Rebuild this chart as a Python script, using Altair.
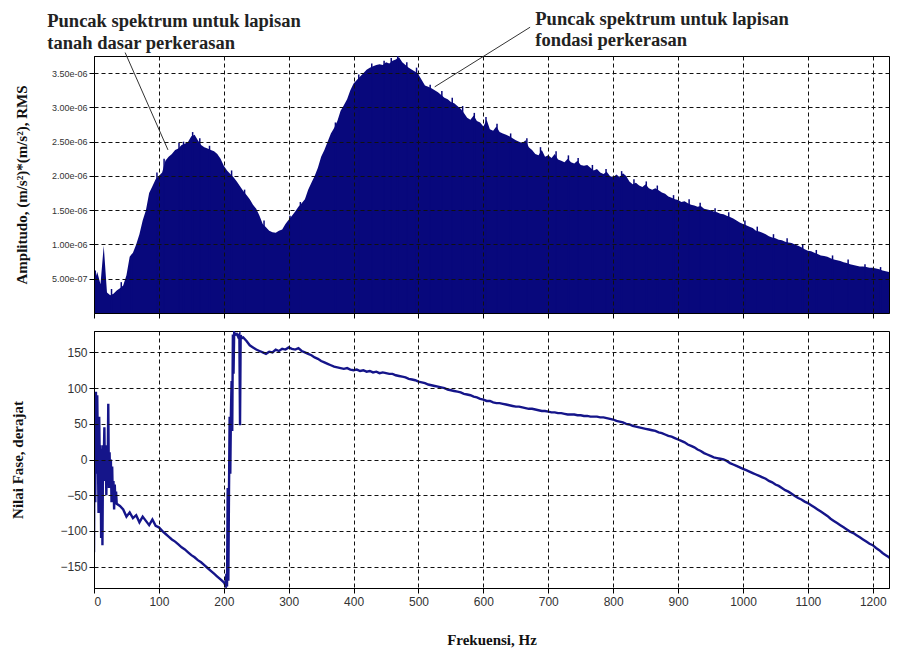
import altair as alt
import pandas as pd

# ---------------- data ----------------
# Amplitude spectrum, 5 Hz spacing, values in 1e-6 (m/s^2)*(m/s^2) RMS
amp_freq = list(range(0, 1240, 5))
amp_vals = [
    0.45, 0.60, 0.42, 0.98, 0.30, 0.26, 0.28, 0.33, 0.36, 0.40, 0.55, 0.82, 0.88, 1.00, 1.15, 1.35, 1.50, 1.75, 1.85, 1.95,
    2.00, 2.05, 2.22, 2.28, 2.32, 2.38, 2.40, 2.45, 2.47, 2.50, 2.58, 2.60, 2.52, 2.45, 2.42, 2.40, 2.38, 2.36, 2.32, 2.25,
    2.15, 2.08, 2.03, 1.98, 1.92, 1.85, 1.78, 1.72, 1.66, 1.58, 1.52, 1.42, 1.30, 1.25, 1.20, 1.18, 1.17, 1.20, 1.22, 1.30,
    1.36, 1.42, 1.48, 1.55, 1.60, 1.66, 1.80, 1.90, 2.00, 2.12, 2.28, 2.38, 2.50, 2.62, 2.70, 2.80, 2.95, 3.03, 3.12, 3.25,
    3.35, 3.40, 3.45, 3.50, 3.55, 3.58, 3.60, 3.62, 3.63, 3.62, 3.66, 3.64, 3.68, 3.70, 3.73, 3.66, 3.62, 3.58, 3.55, 3.52,
    3.48, 3.40, 3.32, 3.30, 3.28, 3.25, 3.22, 3.18, 3.14, 3.12, 3.08, 3.06, 3.02, 2.98, 2.92, 2.85, 2.82, 2.88, 2.80, 2.78,
    2.72, 2.82, 2.68, 2.66, 2.72, 2.64, 2.62, 2.60, 2.58, 2.55, 2.52, 2.50, 2.48, 2.52, 2.42, 2.38, 2.32, 2.30, 2.38, 2.28,
    2.30, 2.26, 2.32, 2.24, 2.22, 2.20, 2.25, 2.20, 2.18, 2.22, 2.16, 2.15, 2.16, 2.12, 2.08, 2.10, 2.05, 2.03, 2.06, 2.00,
    1.98, 2.02, 1.98, 2.04, 2.00, 1.92, 1.88, 1.90, 1.86, 1.84, 1.88, 1.82, 1.80, 1.82, 1.79, 1.76, 1.74, 1.70, 1.68, 1.66,
    1.65, 1.62, 1.63, 1.60, 1.58, 1.57, 1.55, 1.56, 1.52, 1.51, 1.50, 1.48, 1.47, 1.45, 1.44, 1.42, 1.40, 1.38, 1.35, 1.32,
    1.30, 1.28, 1.26, 1.24, 1.20, 1.19, 1.17, 1.15, 1.12, 1.10, 1.09, 1.07, 1.06, 1.04, 1.03, 1.02, 1.00, 0.98, 0.96, 0.93,
    0.91, 0.90, 0.88, 0.86, 0.84, 0.83, 0.82, 0.80, 0.78, 0.77, 0.76, 0.74, 0.73, 0.71, 0.70, 0.69, 0.68, 0.68, 0.67, 0.66,
    0.66, 0.65, 0.64, 0.62, 0.61, 0.60, 0.59, 0.59,
]

# Narrow spikes rising above the spectrum envelope (frequency, amplitude 1e-6)
spike_freq = [2, 27, 42, 58, 97, 108, 131, 138, 152, 163, 178, 212, 232, 262, 302, 318, 372, 408, 428, 447,
              458, 468, 482, 497, 518, 536, 552, 568, 586, 604, 621, 642, 667, 688, 712, 731, 746, 768, 789, 813,
              832, 851, 868, 893, 917, 934, 957, 978, 1003, 1022, 1047, 1068, 1092, 1113, 1138, 1162, 1188, 1212, 1228]
spike_amp = [0.62, 0.35, 0.45, 0.85, 2.05, 2.25, 2.48, 2.50, 2.64, 2.55, 2.44, 2.08, 1.80, 1.35, 1.42, 1.62, 2.78, 3.48, 3.64, 3.68,
             3.72, 3.78, 3.66, 3.58, 3.33, 3.24, 3.14, 3.02, 2.92, 2.86, 2.76, 2.62, 2.55, 2.42, 2.36, 2.30, 2.26, 2.16, 2.10, 2.07,
             1.95, 1.92, 1.86, 1.72, 1.66, 1.61, 1.53, 1.47, 1.35, 1.26, 1.15, 1.09, 1.00, 0.92, 0.84, 0.78, 0.71, 0.67, 0.63]

# Phase, degrees
phase_freq_low = list(range(0, 36))
phase_low = [-130, 85, -60, 95, -20, 90, 10, -75, 60, -10, 20, -110, 15, -120, 20, 0, 45, -30, 20, -50,
             15, -20, 78, -40, 10, -30, 0, -60, -10, -55, -30, -70, -35, -60, -45, -62]
phase_freq_mid = list(range(40, 205, 5))
phase_mid = [-65, -70, -80, -74, -82, -78, -88, -80, -86, -92, -84, -93, -95, -100, -104, -108, -112, -115, -119, -123,
             -126, -130, -134, -137, -141, -144, -148, -152, -156, -160, -164, -168, -172]
phase_freq_jump = [203, 204, 205, 206, 207, 208, 209, 210, 211, 212, 213, 214, 215, 216, 218, 220, 222, 224, 225, 226, 228]
phase_jump = [-177, -160, -178, -40, -170, -45, 60, -20, 65, 110, 40, 175, 120, 178, 175, 176, 172, 175, 48, 174, 170]
phase_freq_high = list(range(230, 1240, 5))
phase_high = [
    171, 166, 160, 157, 154, 152, 150, 148, 151, 150, 154, 152, 155, 154,
    157, 155, 154, 156, 152, 150, 148, 146, 143, 141, 138, 136, 134, 132, 130, 129, 128, 127, 128, 126,
    125, 126, 124, 125, 123, 124, 122, 123, 121, 122, 121, 120, 120, 118, 117, 116, 115, 113, 112, 111,
    109, 108, 107, 105, 104, 103, 102, 101, 100, 98, 97, 96, 95, 94, 92, 91, 90, 88, 87, 85,
    84, 82, 82, 80, 79, 79, 78, 77, 76, 75, 74, 74, 73, 72, 71, 71, 70, 69, 68, 68,
    67, 66, 66, 65, 65, 64, 63, 63, 63, 62, 62, 61, 61, 60, 60, 60, 59, 59, 58, 57,
    56, 54, 53, 52, 50, 49, 47, 46, 45, 44, 43, 42, 41, 40, 38, 37, 35, 33, 32, 30,
    28, 26, 24, 21, 19, 17, 14, 12, 9, 7, 5, 3, 2, 1, 0, -2, -5, -7, -9, -11,
    -13, -15, -17, -19, -21, -23, -25, -27, -30, -32, -35, -37, -40, -43, -45, -48, -51, -54, -56, -59,
    -61, -64, -67, -70, -73, -76, -79, -83, -86, -89, -92, -95, -98, -101, -103, -106, -109, -112, -115, -118,
    -120, -124, -127, -131, -134, -137, -141, -145,
]

# Tick values
freq_ticks = [0, 100, 200, 300, 400, 500, 600, 700, 800, 900, 1000, 1100, 1200]
amp_ticks = [5e-7, 1e-6, 1.5e-6, 2e-6, 2.5e-6, 3e-6, 3.5e-6]
phase_ticks = [-150, -100, -50, 0, 50, 100, 150]

# Annotations (frequency, amplitude in 1e-6)
ann_text = ["Puncak spektrum untuk lapisan", "tanah dasar perkerasan",
            "Puncak spektrum untuk lapisan", "fondasi perkerasan"]
ann_freq = [-72, -72, 680, 680]
ann_amp = [4.17, 3.85, 4.20, 3.89]
lead_f1 = [48, 672]
lead_a1 = [3.80, 4.17]
lead_f2 = [114, 525]
lead_a2 = [2.38, 3.30]

# ---------------- build tables ----------------
amp_df = pd.DataFrame({"f": amp_freq, "a": [v * 1e-6 for v in amp_vals]})
spike_df = pd.DataFrame({"f": spike_freq, "a": [v * 1e-6 for v in spike_amp]})
phase_df = pd.DataFrame({
    "f": phase_freq_low + phase_freq_mid + phase_freq_jump + phase_freq_high,
    "p": phase_low + phase_mid + phase_jump + phase_high,
})
ann_df = pd.DataFrame({"f": ann_freq, "a": [v * 1e-6 for v in ann_amp], "t": ann_text})
lead_df = pd.DataFrame({"f": lead_f1, "a": [v * 1e-6 for v in lead_a1],
                        "f2": lead_f2, "a2": [v * 1e-6 for v in lead_a2]})

NAVY = "#08087c"
LINE = "#15158a"
SERIF = "Liberation Serif"
SANS = "Liberation Sans"

x_scale = alt.Scale(domain=[0, 1225], nice=False, zero=False)
amp_scale = alt.Scale(domain=[0, 3.75e-6], nice=False, zero=False)
phase_scale = alt.Scale(domain=[-180, 180], nice=False, zero=False)

W = 795
H = 257

area = alt.Chart(amp_df).mark_area(color=NAVY, interpolate="linear", clip=True).encode(
    x=alt.X("f:Q", scale=x_scale,
            axis=alt.Axis(values=freq_ticks, labels=False, title=None, zindex=1)),
    y=alt.Y("a:Q", scale=amp_scale,
            axis=alt.Axis(values=amp_ticks,
                          labelExpr="replace(format(datum.value, '.2e'), regexp('e-([0-9])$'), 'e-0$1')",
                          labelFontSize=9, labelPadding=2,
                          title="Amplitudo, (m/s²)*(m/s²), RMS",
                          titlePadding=22, zindex=1)),
)

spikes = alt.Chart(spike_df).mark_rule(color=NAVY, strokeWidth=1.5, clip=True).encode(
    x=alt.X("f:Q", scale=x_scale),
    y=alt.Y("a:Q", scale=amp_scale),
    y2=alt.datum(0),
)

texts = alt.Chart(ann_df).mark_text(
    align="left", baseline="alphabetic", font=SERIF, fontWeight="bold", fontSize=18.5, color="#222222"
).encode(
    x=alt.X("f:Q", scale=x_scale),
    y=alt.Y("a:Q", scale=amp_scale),
    text="t:N",
)

leads = alt.Chart(lead_df).mark_rule(color="#333333", strokeWidth=1).encode(
    x=alt.X("f:Q", scale=x_scale),
    y=alt.Y("a:Q", scale=amp_scale),
    x2="f2:Q",
    y2="a2:Q",
)

top = alt.layer(area, spikes, leads, texts).properties(width=W, height=H)

bottom = alt.Chart(phase_df).mark_line(color=LINE, strokeWidth=2.4, clip=True).encode(
    x=alt.X("f:Q", scale=x_scale,
            axis=alt.Axis(values=freq_ticks, format="d", title="Frekuensi, Hz", titlePadding=25,
                          labelFontSize=12, labelPadding=3, zindex=1)),
    y=alt.Y("p:Q", scale=phase_scale,
            axis=alt.Axis(values=phase_ticks, format="d", labelFontSize=12, labelPadding=2,
                          title="Nilai Fase, derajat", titlePadding=34, zindex=1)),
).properties(width=W, height=H)

chart = alt.vconcat(top, bottom, spacing=11).properties(
    padding={"left": 2, "top": 1, "right": 0, "bottom": 0}
).configure_view(
    stroke="#000000", strokeWidth=1
).configure_axis(
    grid=True, gridColor="#111111", gridDash=[4, 3], gridWidth=1, gridOpacity=1,
    domainColor="#000000", tickColor="#000000", tickSize=5,
    labelFont=SANS, labelColor="#333333",
    titleFont=SERIF, titleFontWeight="bold", titleFontSize=15, titleColor="#111111",
)

chart.save("out.html", embed_options={"renderer": "svg", "actions": False})
